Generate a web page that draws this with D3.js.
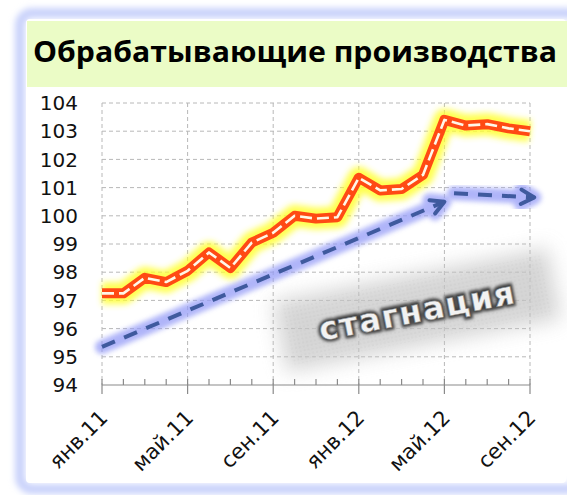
<!DOCTYPE html>
<html><head><meta charset="utf-8">
<script src="https://cdn.jsdelivr.net/npm/d3@7"></script>
<style>html,body{margin:0;padding:0;background:#fff;overflow:hidden}</style>
</head><body>
<script>
const months = ["янв.11","фев.11","мар.11","апр.11","май.11","июн.11","июл.11","авг.11","сен.11","окт.11","ноя.11","дек.11",
                "янв.12","фев.12","мар.12","апр.12","май.12","июн.12","июл.12","авг.12","сен.12"];
const values = [97.25,97.25,97.8,97.65,98.05,98.7,98.15,99.05,99.4,100.0,99.9,99.95,101.35,100.9,100.95,101.45,103.4,103.2,103.25,103.1,103.0];
const yTicks = [94,95,96,97,98,99,100,101,102,103,104];
const xTickLabels = ["янв.11","май.11","сен.11","янв.12","май.12","сен.12"];
const trendUpIdx = [0,16], trendUpVal = [95.35,100.5];
const trendFlatIdx = [16.45,20.2], trendFlatVal = [100.8,100.65];
const title = "Обрабатывающие производства";
const note = "стагнация";

const W=567,H=495;
const svg = d3.select("body").append("svg").attr("width",W).attr("height",H);
const defs = svg.append("defs");
const mkBlur=(id,s)=>defs.append("filter").attr("id",id).attr("x","-30%").attr("y","-30%").attr("width","160%").attr("height","160%")
  .append("feGaussianBlur").attr("stdDeviation",s);
mkBlur("bFrame",3); mkBlur("bGlow",3); mkBlur("bBlue",2.5); mkBlur("bGray",10); mkBlur("bTxt",1.6);
const pat = defs.append("pattern").attr("id","dots").attr("width",4).attr("height",4).attr("patternUnits","userSpaceOnUse");
pat.append("circle").attr("cx",2).attr("cy",2).attr("r",0.6).attr("fill","#9a9a9a");

// frame
svg.append("rect").attr("x",20).attr("y",13).attr("width",560).attr("height",476).attr("rx",12)
  .attr("fill","none").attr("stroke","#c9d2fb").attr("stroke-width",10).attr("filter","url(#bFrame)");
svg.append("rect").attr("x",26).attr("y",19).attr("width",540).attr("height",464).attr("rx",4).attr("fill","#fff");
svg.append("rect").attr("x",27).attr("y",21).attr("width",540).attr("height",66).attr("fill","#ebfcc6");
svg.append("text").attr("x",33).attr("y",62).attr("font-family","Open Sans").attr("font-weight","bold")
  .attr("font-size",28).attr("fill","#000").attr("textLength",524).attr("lengthAdjust","spacingAndGlyphs").text(title);

const x = d3.scaleLinear().domain([0,20]).range([102,530]);
const y = d3.scaleLinear().domain([94,104]).range([385,103]);

// grid
const g = svg.append("g");
g.selectAll("line.h").data(yTicks.slice(1)).join("line")
  .attr("x1",x(0)).attr("x2",x(20)).attr("y1",d=>y(d)).attr("y2",d=>y(d))
  .attr("stroke","#b8b8b8").attr("stroke-width",1).attr("stroke-dasharray","4,3");
const majorIdx = xTickLabels.map(l=>months.indexOf(l));
g.selectAll("line.v").data(majorIdx).join("line")
  .attr("x1",d=>x(d)).attr("x2",d=>x(d)).attr("y1",y(104)).attr("y2",y(94))
  .attr("stroke","#b8b8b8").attr("stroke-width",1).attr("stroke-dasharray","4,3");

// y labels
svg.append("g").selectAll("text").data(yTicks).join("text")
  .attr("x",78).attr("y",d=>y(d)).attr("dy","0.36em").attr("text-anchor","end")
  .attr("font-family","DejaVu Sans").attr("font-size",20).attr("fill","#111").text(d=>d);

// x axis
const ax = svg.append("g");
ax.append("line").attr("x1",x(0)).attr("x2",x(20)).attr("y1",y(94)).attr("y2",y(94)).attr("stroke","#8a8a8a").attr("stroke-width",1.2);
ax.selectAll("line.mn").data(d3.range(months.length)).join("line")
  .attr("x1",d=>x(d)).attr("x2",d=>x(d)).attr("y1",y(94)-6).attr("y2",d=>majorIdx.includes(d)?y(94)+9:y(94))
  .attr("stroke","#8a8a8a").attr("stroke-width",1.2);
ax.selectAll("text").data(majorIdx).join("text")
  .attr("transform",d=>`translate(${x(d)+7},${y(94)+34}) rotate(-45)`).attr("text-anchor","end")
  .attr("font-family","DejaVu Sans").attr("font-size",21).attr("fill","#111").text(d=>months[d]);

// stagnation box
const sg = svg.append("g").attr("transform","translate(417,310) rotate(-11)");
sg.append("rect").attr("x",-140).attr("y",-36).attr("width",280).attr("height",72).attr("fill","#c4c4c4").attr("opacity",0.7).attr("filter","url(#bGray)");
sg.append("rect").attr("x",-132).attr("y",-30).attr("width",264).attr("height",60).attr("fill","url(#dots)").attr("opacity",0.3);
sg.append("text").attr("x",0).attr("y",12).attr("text-anchor","middle").attr("font-family","DejaVu Sans").attr("font-weight","bold")
  .attr("font-size",32).attr("fill","none").attr("stroke","#3a3a3a").attr("stroke-width",5).attr("filter","url(#bTxt)").attr("letter-spacing",1.5).text(note);
sg.append("text").attr("x",0).attr("y",12).attr("text-anchor","middle").attr("font-family","DejaVu Sans").attr("font-weight","bold")
  .attr("font-size",32).attr("fill","#f2f2f2").attr("stroke","#888").attr("stroke-width",0.6).attr("letter-spacing",1.5).text(note);

// trend
const lineT = d3.line().x(d=>x(d[0])).y(d=>y(d[1]));
const up = trendUpIdx.map((d,i)=>[d,trendUpVal[i]]);
const flat = trendFlatIdx.map((d,i)=>[d,trendFlatVal[i]]);
function arrowHead(seg){
  const p1=[x(seg[0][0]),y(seg[0][1])], p2=[x(seg[1][0]),y(seg[1][1])];
  const a=Math.atan2(p2[1]-p1[1],p2[0]-p1[0]), L=15, s=0.5;
  return `M${p2[0]-L*Math.cos(a-s)},${p2[1]-L*Math.sin(a-s)}L${p2[0]},${p2[1]}L${p2[0]-L*Math.cos(a+s)},${p2[1]-L*Math.sin(a+s)}`;
}
const tg = svg.append("g");
[up,flat].forEach(seg=>{
  tg.append("path").attr("d",lineT(seg)+arrowHead(seg)).attr("fill","none").attr("stroke","#959cf7").attr("stroke-width",14)
    .attr("stroke-linecap","round").attr("stroke-linejoin","round").attr("opacity",0.75).attr("filter","url(#bBlue)");
});
[up,flat].forEach(seg=>{
  tg.append("path").attr("d",lineT(seg)).attr("fill","none").attr("stroke","#3f5a9e").attr("stroke-width",4).attr("stroke-dasharray","14,10");
  tg.append("path").attr("d",arrowHead(seg)).attr("fill","none").attr("stroke","#3f5a9e").attr("stroke-width",4).attr("stroke-linecap","round").attr("stroke-linejoin","round");
});

// main series
const line = d3.line().x((d,i)=>x(i)).y(d=>y(d));
const mg = svg.append("g");
mg.append("path").attr("d",line(values)).attr("fill","none").attr("stroke","#ffff30").attr("stroke-width",22)
  .attr("stroke-linejoin","round").attr("opacity",0.85).attr("filter","url(#bGlow)");
mg.append("path").attr("d",line(values)).attr("fill","none").attr("stroke","#ff4a14").attr("stroke-width",10).attr("stroke-linejoin","round");
mg.append("path").attr("d",line(values)).attr("fill","none").attr("stroke","#fff7e8").attr("stroke-width",2.6).attr("stroke-dasharray","12,5").attr("stroke-linejoin","round");
</script>
</body></html>
